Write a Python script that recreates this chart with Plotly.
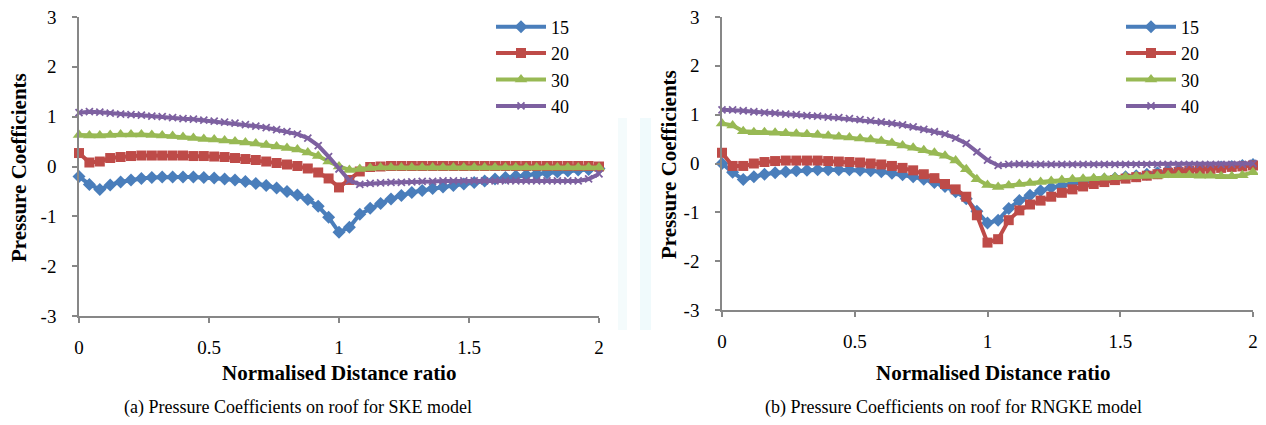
import plotly.graph_objects as go

# page is 1266x425; the html body has an 8px margin, so the figure is made to fit inside it
PAGE_W, PAGE_H, BODY_MARGIN = 1266, 425, 8
FW, FH = PAGE_W - 2 * BODY_MARGIN, PAGE_H - 2 * BODY_MARGIN

x_ratio = [0.00, 0.04, 0.08, 0.12, 0.16, 0.20, 0.24, 0.28, 0.32, 0.36, 0.40, 0.44, 0.48,
           0.52, 0.56, 0.60, 0.64, 0.68, 0.72, 0.76, 0.80, 0.84, 0.88, 0.92, 0.96, 1.00,
           1.04, 1.08, 1.12, 1.16, 1.20, 1.24, 1.28, 1.32, 1.36, 1.40, 1.44, 1.48, 1.52,
           1.56, 1.60, 1.64, 1.68, 1.72, 1.76, 1.80, 1.84, 1.88, 1.92, 1.96, 2.00]

series_names = ["15", "20", "30", "40"]

# (a) SKE model
ske_15 = [-0.20, -0.36, -0.46, -0.37, -0.31, -0.27, -0.24, -0.22, -0.21, -0.21, -0.21, -0.21, -0.22,
          -0.23, -0.25, -0.27, -0.30, -0.34, -0.38, -0.43, -0.50, -0.57, -0.66, -0.80, -1.02, -1.32,
          -1.22, -0.96, -0.84, -0.74, -0.65, -0.58, -0.52, -0.48, -0.44, -0.41, -0.38, -0.35, -0.32,
          -0.29, -0.25, -0.22, -0.19, -0.17, -0.15, -0.13, -0.11, -0.09, -0.07, -0.06, -0.04]
ske_20 = [0.27, 0.08, 0.10, 0.17, 0.19, 0.21, 0.22, 0.22, 0.22, 0.22, 0.22, 0.21, 0.21,
          0.20, 0.19, 0.17, 0.15, 0.13, 0.10, 0.07, 0.04, 0.01, -0.04, -0.12, -0.24, -0.42,
          -0.27, -0.10, -0.01, 0.00, 0.01, 0.01, 0.01, 0.01, 0.01, 0.01, 0.01, 0.01, 0.01,
          0.01, 0.01, 0.01, 0.01, 0.01, 0.01, 0.01, 0.01, 0.01, 0.01, 0.01, 0.00]
ske_30 = [0.63, 0.62, 0.62, 0.63, 0.64, 0.64, 0.64, 0.63, 0.62, 0.61, 0.59, 0.57, 0.55,
          0.54, 0.52, 0.50, 0.48, 0.46, 0.43, 0.40, 0.37, 0.34, 0.28, 0.21, 0.10, 0.00,
          -0.07, -0.05, -0.03, -0.02, -0.02, -0.02, -0.02, -0.02, -0.02, -0.02, -0.02, -0.02, -0.02,
          -0.02, -0.02, -0.02, -0.02, -0.02, -0.02, -0.02, -0.02, -0.02, -0.02, -0.02, -0.02]
ske_40 = [1.08, 1.10, 1.09, 1.07, 1.05, 1.04, 1.03, 1.01, 1.00, 0.98, 0.96, 0.95, 0.93,
          0.91, 0.89, 0.87, 0.84, 0.81, 0.78, 0.74, 0.70, 0.65, 0.57, 0.42, 0.20, -0.05,
          -0.28, -0.36, -0.34, -0.33, -0.32, -0.32, -0.31, -0.30, -0.30, -0.29, -0.29, -0.29, -0.29,
          -0.29, -0.29, -0.29, -0.29, -0.29, -0.29, -0.29, -0.29, -0.29, -0.29, -0.25, -0.15]

# (b) RNGKE model
rng_15 = [0.00, -0.18, -0.33, -0.27, -0.22, -0.19, -0.17, -0.15, -0.14, -0.13, -0.13, -0.13, -0.13,
          -0.14, -0.15, -0.17, -0.20, -0.23, -0.27, -0.32, -0.39, -0.47, -0.58, -0.72, -0.98, -1.22,
          -1.16, -0.92, -0.76, -0.65, -0.56, -0.49, -0.45, -0.41, -0.38, -0.35, -0.32, -0.30, -0.27,
          -0.25, -0.22, -0.19, -0.17, -0.15, -0.13, -0.11, -0.09, -0.07, -0.06, -0.04, -0.02]
rng_20 = [0.22, -0.05, -0.05, 0.00, 0.03, 0.05, 0.06, 0.06, 0.06, 0.06, 0.05, 0.04, 0.03,
          0.02, 0.00, -0.02, -0.05, -0.09, -0.14, -0.22, -0.30, -0.42, -0.53, -0.68, -1.06, -1.62,
          -1.55, -1.16, -0.96, -0.84, -0.76, -0.68, -0.60, -0.53, -0.47, -0.42, -0.38, -0.34, -0.31,
          -0.28, -0.25, -0.22, -0.19, -0.17, -0.15, -0.13, -0.11, -0.09, -0.07, -0.06, -0.04]
rng_30 = [0.82, 0.78, 0.66, 0.64, 0.64, 0.63, 0.62, 0.61, 0.60, 0.59, 0.57, 0.55, 0.53,
          0.51, 0.49, 0.46, 0.42, 0.37, 0.32, 0.27, 0.22, 0.16, 0.06, -0.12, -0.32, -0.44,
          -0.48, -0.45, -0.42, -0.40, -0.38, -0.36, -0.34, -0.32, -0.31, -0.30, -0.29, -0.28, -0.27,
          -0.26, -0.25, -0.25, -0.24, -0.24, -0.24, -0.25, -0.25, -0.26, -0.26, -0.24, -0.18]
rng_40 = [1.10, 1.10, 1.08, 1.06, 1.04, 1.03, 1.01, 1.00, 0.98, 0.97, 0.95, 0.94, 0.92,
          0.90, 0.88, 0.85, 0.82, 0.79, 0.75, 0.70, 0.65, 0.60, 0.52, 0.41, 0.24, 0.07,
          -0.04, -0.02, -0.01, -0.02, -0.02, -0.02, -0.02, -0.02, -0.02, -0.02, -0.02, -0.02, -0.02,
          -0.02, -0.02, -0.02, -0.02, -0.02, -0.02, -0.02, -0.02, -0.02, -0.02, -0.02, 0.00]

x_ticks = [0, 0.5, 1, 1.5, 2]
x_tick_labels = ["0", "0.5", "1", "1.5", "2"]
y_ticks = [-3, -2, -1, 0, 1, 2, 3]
y_tick_labels = ["-3", "-2", "-1", "0", "1", "2", "3"]

x_title = "Normalised Distance ratio"
y_title = "Pressure Coefficients"
caption_a = "(a) Pressure Coefficients on roof for SKE model"
caption_b = "(b) Pressure Coefficients on roof for RNGKE model"

colors = ["#4A7EBB", "#BE4B48", "#98B954", "#7D60A0"]
symbols = ["diamond", "square", "triangle-up", "x-thin"]
msizes = [10, 10, 11, 7]

FONT = "Liberation Serif"
AXIS_COL = "#878787"

fig = go.Figure()

def add_series(ys_list, xa, ya, legend):
    for name, ys, col, sym, ms in zip(series_names, ys_list, colors, symbols, msizes):
        fig.add_trace(go.Scatter(
            x=x_ratio, y=ys, name=name, mode="lines+markers",
            line=dict(color=col, width=4),
            marker=dict(symbol=sym, size=ms, color=col,
                        line=dict(color=col, width=1.8 if sym == "x-thin" else 0)),
            xaxis=xa, yaxis=ya, legend=legend, cliponaxis=False,
        ))

add_series([ske_15, ske_20, ske_30, ske_40], "x", "y", "legend")
add_series([rng_15, rng_20, rng_30, rng_40], "x2", "y2", "legend2")

def px_x(p):
    return (p - BODY_MARGIN) / FW

def px_y(p):
    return 1 - (p - BODY_MARGIN) / FH

xaxis_common = dict(range=[0, 2], tickvals=x_ticks, ticktext=x_tick_labels, ticks="outside",
                    ticklen=5, tickwidth=1.5, automargin=False, ticklabeloverflow="allow",
                    tickcolor=AXIS_COL, showline=True, linecolor=AXIS_COL, linewidth=1.5,
                    showgrid=False, zeroline=False, ticklabelstandoff=8,
                    tickfont=dict(family=FONT, size=19, color="black"))
yaxis_common = dict(range=[-3, 3], tickvals=y_ticks, ticktext=y_tick_labels, ticks="outside",
                    ticklen=5, tickwidth=1.5, automargin=False, ticklabeloverflow="allow",
                    tickcolor=AXIS_COL, showline=True, linecolor=AXIS_COL, linewidth=1.5,
                    showgrid=False, zeroline=False, ticklabelstandoff=12,
                    tickfont=dict(family=FONT, size=19, color="black"))

legend_common = dict(font=dict(family=FONT, size=18, color="black"), itemwidth=50,
                     bgcolor="rgba(0,0,0,0)", tracegroupgap=0, xanchor="left", yanchor="top")

fig.update_layout(
    template="none",
    width=FW, height=FH, margin=dict(l=0, r=0, t=0, b=0),
    paper_bgcolor="white", plot_bgcolor="white",
    xaxis=dict(domain=[px_x(79), px_x(599)], anchor="y", **xaxis_common),
    yaxis=dict(domain=[px_y(316), px_y(17)], anchor="x", **yaxis_common),
    xaxis2=dict(domain=[px_x(722), px_x(1253)], anchor="y2", **xaxis_common),
    yaxis2=dict(domain=[px_y(310), px_y(17)], anchor="x2", **yaxis_common),
    legend=dict(x=px_x(491), y=px_y(8.5), **legend_common),
    legend2=dict(x=px_x(1121), y=px_y(8.5), **legend_common),
    showlegend=True,
)

# faint scan artefacts between the panels
fig.add_shape(type="rect", xref="paper", yref="paper", x0=px_x(618), x1=px_x(627),
              y0=px_y(330), y1=px_y(118), fillcolor="#f4fbfc", line=dict(width=0), layer="below")
fig.add_shape(type="rect", xref="paper", yref="paper", x0=px_x(640), x1=px_x(651),
              y0=px_y(330), y1=px_y(118), fillcolor="#f0fafc", line=dict(width=0), layer="below")

annots = [
    dict(text="<b>%s</b>" % x_title, x=px_x(339), y=px_y(373), size=21, angle=0),
    dict(text="<b>%s</b>" % x_title, x=px_x(993), y=px_y(373), size=21, angle=0),
    dict(text="<b>%s</b>" % y_title, x=px_x(19), y=px_y(168), size=21, angle=-90),
    dict(text="<b>%s</b>" % y_title, x=px_x(669), y=px_y(165), size=21, angle=-90),
    dict(text=caption_a, x=px_x(298), y=px_y(407), size=18, angle=0),
    dict(text=caption_b, x=px_x(953), y=px_y(407), size=18, angle=0),
]
for a in annots:
    fig.add_annotation(text=a["text"], x=a["x"], y=a["y"], xref="paper", yref="paper",
                       xanchor="center", yanchor="middle", showarrow=False, textangle=a["angle"],
                       font=dict(family=FONT, size=a["size"], color="black"))

fig.write_html("out.html")
